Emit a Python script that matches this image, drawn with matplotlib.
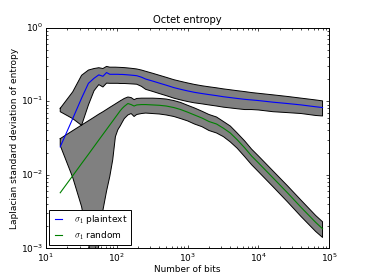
import matplotlib
matplotlib.use('Agg')
import matplotlib.pyplot as plt

# number of bits (sample sizes)
bits = [16, 24, 32, 40, 48, 56, 64, 72, 80, 88, 96, 104, 112, 120, 128,
        144, 160, 176, 192, 224, 256, 320, 400, 500, 640, 800, 1000, 1250,
        1600, 2000, 2560, 3200, 4000, 5000, 6400, 8000, 10000, 16000, 25600,
        40000, 64000, 80000]

# sigma_1 for plaintext: line and band
plain_sigma = [0.024, 0.058, 0.11, 0.175, 0.205, 0.228, 0.218, 0.245, 0.232, 0.232,
               0.232, 0.232, 0.231, 0.231, 0.230, 0.228, 0.226, 0.224, 0.222, 0.212,
               0.200, 0.188, 0.176, 0.165, 0.153, 0.145, 0.138, 0.132,
               0.127, 0.123, 0.119, 0.115, 0.112, 0.109, 0.106, 0.104, 0.102, 0.097, 0.093,
               0.089, 0.084, 0.082]
plain_upper = [0.080, 0.134, 0.225, 0.265, 0.278, 0.285, 0.278, 0.297, 0.290, 0.290,
               0.290, 0.289, 0.288, 0.287, 0.286, 0.283, 0.280, 0.277, 0.274, 0.265,
               0.255, 0.240, 0.225, 0.211, 0.196, 0.186, 0.177, 0.169,
               0.162, 0.157, 0.152, 0.147, 0.143, 0.139, 0.135, 0.131, 0.128, 0.122, 0.116,
               0.110, 0.104, 0.101]
plain_lower = [0.072, 0.058, 0.047, 0.089, 0.139, 0.168, 0.156, 0.176, 0.175, 0.175,
               0.175, 0.175, 0.174, 0.174, 0.174, 0.173, 0.172, 0.171, 0.170, 0.159,
               0.145, 0.136, 0.127, 0.119, 0.110, 0.104, 0.099, 0.095,
               0.092, 0.089, 0.086, 0.083, 0.081, 0.079, 0.077, 0.077, 0.076, 0.072, 0.070,
               0.068, 0.064, 0.063]

# sigma_1 for random data: line and band
rand_sigma = [0.0057, 0.0097, 0.0142, 0.0190, 0.0242, 0.0297, 0.0354, 0.0413, 0.0475, 0.0538,
              0.0604, 0.0671, 0.0740, 0.0800, 0.0850, 0.093, 0.090, 0.086, 0.089, 0.090,
              0.090, 0.089, 0.088, 0.086, 0.082, 0.077, 0.071, 0.065,
              0.059, 0.053, 0.049, 0.043, 0.037, 0.030, 0.0232, 0.018, 0.0145, 0.0091, 0.0057,
              0.0036, 0.00226, 0.00185]
rand_upper = [0.031, 0.0398, 0.0474, 0.0542, 0.0606, 0.0667, 0.0719, 0.0773, 0.0825, 0.0873,
              0.0920, 0.0966, 0.101, 0.105, 0.109, 0.114, 0.112, 0.105, 0.109, 0.110,
              0.110, 0.110, 0.109, 0.107, 0.102, 0.096, 0.088, 0.081,
              0.073, 0.066, 0.061, 0.053, 0.046, 0.037, 0.0288, 0.0223, 0.018, 0.0113, 0.0071,
              0.0045, 0.0028, 0.0023]
rand_lower = [0.025, 0.0092, 0.0037, 0.0012, 0.00045, 0.0011, 0.0033, 0.006, 0.0095, 0.016,
              0.033, 0.041, 0.046, 0.052, 0.058, 0.065, 0.068, 0.062, 0.066, 0.068,
              0.069, 0.068, 0.067, 0.065, 0.062, 0.058, 0.054, 0.049,
              0.045, 0.040, 0.037, 0.033, 0.028, 0.023, 0.0176, 0.0137, 0.011, 0.0069, 0.0043,
              0.0027, 0.0017, 0.00141]

plt.style.use('classic')
plt.rcParams['savefig.facecolor'] = 'white'
plt.rcParams['font.size'] = 6.5

fig = plt.figure(figsize=(3.66, 2.76), dpi=100, facecolor='white')
ax = fig.add_subplot(111)

# grey band, outlined in black
for lo, hi in [(plain_lower, plain_upper), (rand_lower, rand_upper)]:
    ax.fill_between(bits, lo, hi, facecolor='0.5', edgecolor='none', linewidth=0)
    ax.plot(bits + bits[::-1] + bits[:1], hi + lo[::-1] + hi[:1], 'k-', lw=0.7)

ax.plot(bits, plain_sigma, 'b-', lw=0.8, label=r'$\sigma_1$ plaintext')
ax.plot(bits, rand_sigma, 'g-', lw=0.8, label=r'$\sigma_1$ random')

ax.set_xscale('log')
ax.set_yscale('log')
ax.set_xlim(10, 1e5)
ax.set_ylim(1e-3, 1)
ax.set_title('Octet entropy', fontsize=7.2, pad=3)
ax.set_xlabel('Number of bits', fontsize=6.4, labelpad=1)
ax.set_ylabel('Laplacian standard deviation of entropy', fontsize=6.5, labelpad=1)
ax.tick_params(which='major', length=2.5, width=0.5, labelsize=6.5, pad=2)
ax.tick_params(which='minor', length=1.3, width=0.5)
for s in ax.spines.values():
    s.set_linewidth(0.7)

leg = ax.legend(loc='lower left', fontsize=6.5, handlelength=1.4, handletextpad=1.0,
                borderaxespad=0.4, borderpad=0.35, labelspacing=0.35)
leg.get_frame().set_linewidth(0.7)

fig.subplots_adjust(left=0.125, right=0.9, bottom=0.1, top=0.9)
fig.savefig('out.png', dpi=100)
